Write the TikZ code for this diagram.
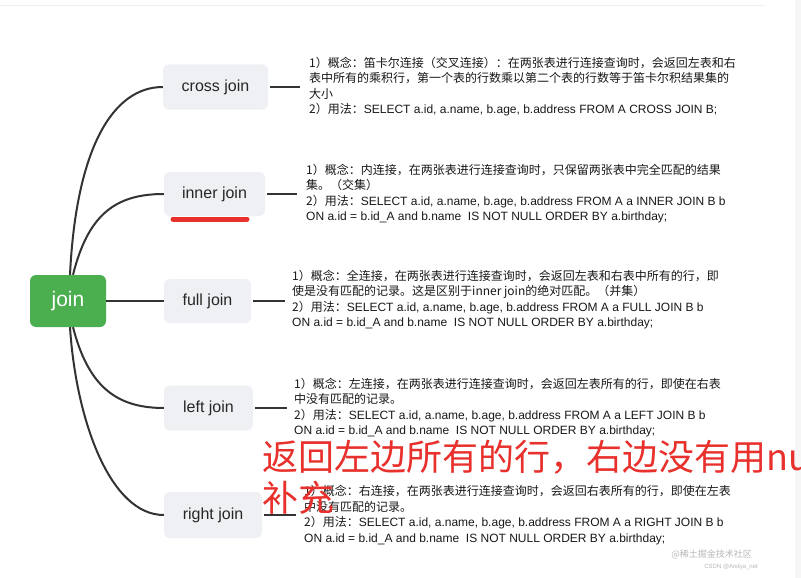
\documentclass[tikz,border=0pt]{standalone}
\usepackage{fontspec}
\setmainfont{Liberation Sans}
\newfontfamily\cjk{Noto Sans CJK SC}
\definecolor{boxgray}{HTML}{EEF0F3}
\definecolor{joingreen}{HTML}{4BAE4F}
\definecolor{linecol}{HTML}{333333}
\definecolor{redmark}{HTML}{E8302C}
\definecolor{wm}{HTML}{B8B8B8}
\begin{document}
\begin{tikzpicture}[x=1pt,y=-1pt,
  topic/.style={draw=none, fill=boxgray, rounded corners=6pt, inner sep=0pt, font=\fontsize{16}{18}\selectfont, text=black!85},
  root/.style={fill=joingreen, rounded corners=6pt, minimum width=76pt, minimum height=52pt, inner sep=0pt, text=white, font=\fontsize{21}{24}\selectfont},
  conn/.style={draw=linecol, line width=2pt},
  desc/.style={anchor=west, align=left, inner sep=0pt, font=\fontsize{12}{15.5}\selectfont, text=black!90},
  redtxt/.style={anchor=base west, inner sep=0pt, text=redmark, font=\cjk\fontsize{36}{41}\selectfont},
]
\useasboundingbox (0,0) rectangle (801,578);
\fill[white] (0,0) rectangle (801,578);
\fill[gray!7] (795,0) rectangle (801,578);
\draw[gray!12, line width=1pt] (0,6) -- (765,6);

% topic nodes
\node[root] (join) at (68,301) {join};
\node[topic, minimum width=105pt, minimum height=45pt] (cross) at (215.5,87) {cross join};
\node[topic, minimum width=101pt, minimum height=44pt] (inner) at (214.5,194) {inner join};
\node[topic, minimum width=87pt, minimum height=44pt] (full) at (207.5,301) {full join};
\node[topic, minimum width=89pt, minimum height=45pt] (left) at (208.5,408) {left join};
\node[topic, minimum width=98pt, minimum height=46pt] (right) at (213,515) {right join};

% branches
\draw[conn] ([xshift=2pt]join.north) .. controls (76,150) and (112,87) .. (cross.west);
\draw[conn] ([xshift=5pt]join.north) .. controls (88,215) and (115,194) .. (inner.west);
\draw[conn] (join.east) -- (full.west);
\draw[conn] ([xshift=5pt]join.south) .. controls (88,385) and (115,408) .. (left.west);
\draw[conn] ([xshift=2pt]join.south) .. controls (76,420) and (110,515) .. (right.west);

% description texts
\node[desc] (crosstxt) at (309,86.5) {{\cjk 1）概念：笛卡尔连接（交叉连接）：在两张表进行连接查询时，会返回左表和右}\\
{\cjk 表中所有的乘积行，第一个表的行数乘以第二个表的行数等于笛卡尔积结果集的}\\
{\cjk 大小}\\
{\cjk 2）用法：}SELECT a.id, a.name, b.age, b.address FROM A CROSS JOIN B;};
\node[desc] (innertxt) at (306,193.5) {{\cjk 1）概念：内连接，在两张表进行连接查询时，只保留两张表中完全匹配的结果}\\
{\cjk 集。（交集）}\\
{\cjk 2）用法：}SELECT a.id, a.name, b.age, b.address FROM A a INNER JOIN B b\\
ON a.id = b.id\_A and b.name\ \ IS NOT NULL ORDER BY a.birthday;};
\node[desc] (fulltxt) at (292,299.5) {{\cjk 1）概念：全连接，在两张表进行连接查询时，会返回左表和右表中所有的行，即}\\
{\cjk 使是没有匹配的记录。这是区别于inner join的绝对匹配。（并集）}\\
{\cjk 2）用法：}SELECT a.id, a.name, b.age, b.address FROM A a FULL JOIN B b\\
ON a.id = b.id\_A and b.name\ \ IS NOT NULL ORDER BY a.birthday;};
\node[desc] (lefttxt) at (294,407.5) {{\cjk 1）概念：左连接，在两张表进行连接查询时，会返回左表所有的行，即使在右表}\\
{\cjk 中没有匹配的记录。}\\
{\cjk 2）用法：}SELECT a.id, a.name, b.age, b.address FROM A a LEFT JOIN B b\\
ON a.id = b.id\_A and b.name\ \ IS NOT NULL ORDER BY a.birthday;};
\node[desc] (righttxt) at (304,515) {{\cjk 1）概念：右连接，在两张表进行连接查询时，会返回右表所有的行，即使在左表}\\
{\cjk 中没有匹配的记录。}\\
{\cjk 2）用法：}SELECT a.id, a.name, b.age, b.address FROM A a RIGHT JOIN B b\\
ON a.id = b.id\_A and b.name\ \ IS NOT NULL ORDER BY a.birthday;};

% leaders to texts
\coordinate (crossend) at (300,87);
\coordinate (innerend) at (297,194);
\coordinate (fullend) at (285,301);
\coordinate (leftend) at (287,408);
\coordinate (rightend) at (296,515);
\draw[conn] ([xshift=2pt]cross.east) -- (crossend);
\draw[conn] ([xshift=2pt]inner.east) -- (innerend);
\draw[conn] ([xshift=2pt]full.east) -- (fullend);
\draw[conn] ([xshift=2pt]left.east) -- (leftend);
\draw[conn] ([xshift=2pt]right.east) -- (rightend);

% red annotations
\draw[redmark, line width=5pt, line cap=round] (173,219) -- (247,219);
\begin{scope}
\clip (0,0) rectangle (801,578);
\node[redtxt] (note1) at (262,470) {返回左边所有的行，右边没有用null};
\node[redtxt] (note2) at (262,511) {补充};
\end{scope}

% watermark
\node[anchor=base east, inner sep=0pt, text=wm, font=\cjk\fontsize{9}{11}\selectfont] (wm1) at (752,557) {@稀土掘金技术社区};
\node[anchor=base east, inner sep=0pt, text=wm, font=\fontsize{6}{7}\selectfont] (wm2) at (758,568) {CSDN @Andya\_net};
\end{tikzpicture}
\end{document}
